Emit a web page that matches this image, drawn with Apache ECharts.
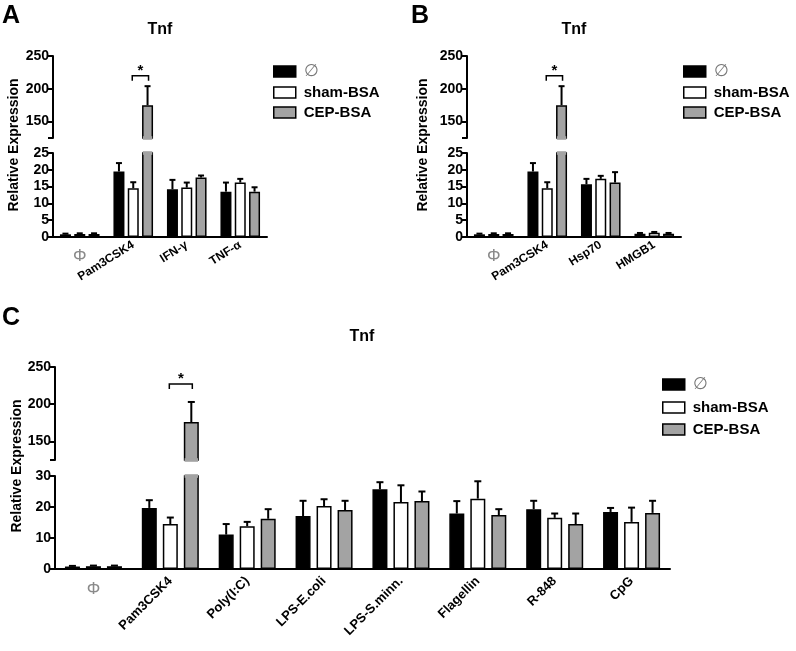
<!DOCTYPE html>
<html>
<head>
<meta charset="utf-8">
<script src="https://cdn.jsdelivr.net/npm/echarts@6/dist/echarts.min.js"></script>
<style>
  html, body { margin: 0; padding: 0; background: #fff; }
  #chart { width: 796px; height: 651px; }
</style>
</head>
<body>
<div id="chart"></div>
<script>
// legend / group names
const groupNames = ['∅', 'sham-BSA', 'CEP-BSA'];

// panel A
const catsA = ['Φ', 'Pam3CSK4', 'IFN-γ', 'TNF-α'];
const noneA = [0.8, 19.5, 14.2, 13.5];
const noneErrA = [0.2, 2.5, 2.8, 2.7];
const shamA = [0.9, 14.5, 14.7, 16.2];
const shamErrA = [0.2, 1.8, 1.5, 1.1];
const cepA = [0.9, 175, 17.7, 13.5];
const cepErrA = [0.2, 29, 0.6, 1.3];

// panel B
const catsB = ['Φ', 'Pam3CSK4', 'Hsp70', 'HMGB1'];
const noneB = [0.8, 19.5, 15.7, 1.0];
const noneErrB = [0.2, 2.5, 1.6, 0.2];
const shamB = [0.9, 14.5, 17.3, 1.3];
const shamErrB = [0.2, 1.8, 0.9, 0.2];
const cepB = [0.9, 175, 16.2, 1.0];
const cepErrB = [0.2, 29, 3.1, 0.2];

// panel C
const catsC = ['Φ', 'Pam3CSK4', 'Poly(I:C)', 'LPS-E.coli', 'LPS-S.minn.', 'Flagellin', 'R-848', 'CpG'];
const noneC = [0.8, 19.7, 11.1, 17.1, 25.7, 17.9, 19.3, 18.4];
const noneErrC = [0.2, 2.5, 3.4, 4.9, 2.3, 4.0, 2.7, 1.3];
const shamC = [0.9, 14.5, 13.8, 20.3, 21.6, 22.7, 16.5, 15.2];
const shamErrC = [0.2, 2.1, 1.4, 2.2, 5.4, 5.6, 1.4, 4.6];
const cepC = [0.9, 176, 16.2, 19.0, 21.9, 17.4, 14.5, 18.1];
const cepErrC = [0.2, 27, 3.1, 3.0, 3.1, 1.9, 3.4, 3.9];

// upper (broken) axis ticks
const upperTicks = [150, 200, 250];

const FONT = '"Liberation Sans", Arial, sans-serif';
const barColors = ['#000000', '#ffffff', '#a3a3a3'];

const grids = [], xAxes = [], yAxes = [], series = [];

function addPanel(p) {
  const gu = grids.length, gl = gu + 1;
  grids.push({ left: p.left, width: p.width, top: p.upTop, height: p.upHeight });
  grids.push({ left: p.left, width: p.width, top: p.lowTop, height: p.lowHeight });
  const pitch = p.barWidth * (1 + p.barGap / 100);

  // x axes: upper (hidden), lower (main), lower extra for the upright Φ label
  const xu = xAxes.length, xl = xu + 1;
  xAxes.push({ type: 'category', gridIndex: gu, data: p.cats, show: false });
  xAxes.push({
    type: 'category', gridIndex: gl, data: p.cats, position: 'bottom',
    axisLine: { lineStyle: { color: '#000', width: 2 } },
    axisTick: { alignWithLabel: true, length: 5, lineStyle: { color: '#000', width: 2 } },
    axisLabel: {
      interval: 0, rotate: p.rotate, margin: p.labelMargin, color: '#000',
      fontFamily: FONT, fontSize: p.labelSize, fontWeight: 'bold',
      formatter: v => v === 'Φ' ? '' : v
    }
  });
  xAxes.push({
    type: 'category', gridIndex: gl, data: p.cats, position: 'bottom',
    axisLine: { show: false }, axisTick: { show: false },
    axisLabel: {
      interval: 0, margin: p.phiMargin, color: '#8a8a8a',
      fontFamily: FONT, fontSize: 17, fontWeight: 'normal',
      formatter: v => v === 'Φ' ? v : ''
    }
  });

  const yCommon = {
    axisLine: { show: true, lineStyle: { color: '#000', width: 2 } },
    splitLine: { show: false },
  };
  const yu = yAxes.length, yl = yu + 1;
  yAxes.push(Object.assign({
    type: 'value', gridIndex: gu, min: p.upMin, max: 250,
    axisTick: { show: true, length: 5, customValues: [p.upMin].concat(upperTicks), lineStyle: { color: '#000', width: 2 } },
    axisLabel: { customValues: upperTicks, margin: 4, color: '#000', fontFamily: FONT, fontSize: 14, fontWeight: 'bold' }
  }, yCommon));
  yAxes.push(Object.assign({
    type: 'value', gridIndex: gl, min: 0, max: p.lowMax, interval: p.lowInt,
    axisTick: { show: true, length: 5, lineStyle: { color: '#000', width: 2 } },
    axisLabel: { margin: 4, color: '#000', fontFamily: FONT, fontSize: 14, fontWeight: 'bold' }
  }, yCommon));

  p.vals.forEach((vals, g) => {
    const style = { color: barColors[g], borderColor: '#000', borderWidth: 1.5 };
    series.push({
      type: 'bar', name: groupNames[g], xAxisIndex: xl, yAxisIndex: yl,
      data: vals, barWidth: p.barWidth, barGap: p.barGap + '%', itemStyle: style, silent: true
    });
    series.push({
      type: 'bar', name: groupNames[g], xAxisIndex: xu, yAxisIndex: yu,
      data: vals.map(v => v >= p.upMin ? v : '-'), barWidth: p.barWidth, barGap: p.barGap + '%',
      itemStyle: style, silent: true
    });
  });

  const errLow = [], errUp = [], breakLow = [], breakUp = [];
  p.vals.forEach((vals, g) => {
    vals.forEach((v, c) => {
      const item = [c, g, v, p.errs[g][c]];
      if (v <= p.lowMax) errLow.push(item); else breakLow.push([c, g, p.lowMax]);
      if (v >= p.upMin) { errUp.push(item); breakUp.push([c, g, p.upMin]); }
    });
  });
  const errRender = (params, api) => {
    const c = api.value(0), g = api.value(1), v = api.value(2), e = api.value(3);
    const base = api.coord([c, v]);
    const top = api.coord([c, v + e]);
    const x = base[0] + (g - 1) * pitch;
    const st = { stroke: '#000', lineWidth: 2 };
    return {
      type: 'group', children: [
        { type: 'line', shape: { x1: x, y1: base[1], x2: x, y2: top[1] }, style: st },
        { type: 'line', shape: { x1: x - p.cap, y1: top[1], x2: x + p.cap, y2: top[1] }, style: st }
      ]
    };
  };
  // hides the border where a bar is cut by the axis break
  const breakRender = (params, api) => {
    const c = api.value(0), g = api.value(1);
    const pt = api.coord([c, api.value(2)]);
    const x = pt[0] + (g - 1) * pitch;
    return {
      type: 'rect',
      shape: { x: x - p.barWidth / 2 + 0.8, y: pt[1] - 1.8, width: p.barWidth - 1.6, height: 3.6 },
      style: { fill: barColors[g] }
    };
  };
  series.push({ type: 'custom', xAxisIndex: xl, yAxisIndex: yl, data: errLow, encode: { x: 0, y: 2 }, renderItem: errRender, z: 5, silent: true });
  series.push({ type: 'custom', xAxisIndex: xu, yAxisIndex: yu, data: errUp, encode: { x: 0, y: 2 }, renderItem: errRender, z: 5, silent: true });
  series.push({ type: 'custom', xAxisIndex: xl, yAxisIndex: yl, data: breakLow, encode: { x: 0, y: 2 }, renderItem: breakRender, z: 4, silent: true, clip: false });
  series.push({ type: 'custom', xAxisIndex: xu, yAxisIndex: yu, data: breakUp, encode: { x: 0, y: 2 }, renderItem: breakRender, z: 4, silent: true, clip: false });

  // significance bracket between sham and CEP
  series.push({
    type: 'custom', xAxisIndex: xu, yAxisIndex: yu, data: [p.sig], encode: { x: 0, y: 1 }, z: 5, silent: true,
    renderItem: (params, api) => {
      const pt = api.coord([api.value(0), api.value(1)]);
      const x0 = pt[0] - 1, x1 = pt[0] + pitch + 1, y = pt[1];
      return {
        type: 'group', children: [
          { type: 'polyline', shape: { points: [[x0, y + 5], [x0, y], [x1, y], [x1, y + 5]] }, style: { stroke: '#000', lineWidth: 1.5, fill: null } },
          { type: 'text', x: (x0 + x1) / 2, y: y - 5, style: { text: '*', fontFamily: FONT, fontSize: 15, fontWeight: 'bold', fill: '#000', align: 'center', verticalAlign: 'middle' } }
        ]
      };
    }
  });
}

addPanel({
  cats: catsA, vals: [noneA, shamA, cepA], errs: [noneErrA, shamErrA, cepErrA],
  left: 53, width: 214, upTop: 56, upHeight: 82, lowTop: 153, lowHeight: 84,
  upMin: 125, lowMax: 25, lowInt: 5, barWidth: 11, barGap: 30, cap: 3, sig: [1, 220],
  rotate: 32, labelSize: 12, labelMargin: 7, phiMargin: 11
});
addPanel({
  cats: catsB, vals: [noneB, shamB, cepB], errs: [noneErrB, shamErrB, cepErrB],
  left: 467, width: 214, upTop: 56, upHeight: 82, lowTop: 153, lowHeight: 84,
  upMin: 125, lowMax: 25, lowInt: 5, barWidth: 11, barGap: 30, cap: 3, sig: [1, 220],
  rotate: 32, labelSize: 12, labelMargin: 7, phiMargin: 11
});
addPanel({
  cats: catsC, vals: [noneC, shamC, cepC], errs: [noneErrC, shamErrC, cepErrC],
  left: 55, width: 615, upTop: 367, upHeight: 93, lowTop: 476, lowHeight: 93,
  upMin: 125, lowMax: 30, lowInt: 10, barWidth: 15, barGap: 40, cap: 3.5, sig: [1, 227],
  rotate: 45, labelSize: 13, labelMargin: 10, phiMargin: 12
});

function legendAt(left, top, gap) {
  return {
    orient: 'vertical', left: left, top: top, icon: 'rect',
    itemWidth: 22, itemHeight: 11, itemGap: gap, selectedMode: false,
    data: groupNames,
    itemStyle: { borderColor: '#000', borderWidth: 1.5 },
    formatter: n => n === '∅' ? '{e|∅}' : n,
    textStyle: {
      fontFamily: FONT, fontSize: 15, fontWeight: 'bold', color: '#000', padding: [0, 0, 0, 3],
      rich: { e: { fontFamily: FONT, fontSize: 17, color: '#777', fontWeight: 'normal' } }
    }
  };
}

const text = (t, x, y, size, extra) => ({
  type: 'text', x: x, y: y, silent: true,
  style: Object.assign({ text: t, fontFamily: FONT, fontSize: size, fontWeight: 'bold', fill: '#000', align: 'center', verticalAlign: 'middle' }, extra || {})
});

const option = {
  animation: false,
  backgroundColor: '#fff',
  grid: grids,
  xAxis: xAxes,
  yAxis: yAxes,
  legend: [legendAt(268, 58, 5), legendAt(678, 58, 5), legendAt(657, 371, 7)],
  graphic: [
    text('A', 11, 16, 25),
    text('B', 420, 16, 25),
    text('C', 11, 318, 25),
    text('Tnf', 160, 30, 16),
    text('Tnf', 574, 30, 16),
    text('Tnf', 362, 337, 16),
    Object.assign(text('Relative Expression', 14, 145, 14), { rotation: Math.PI / 2 }),
    Object.assign(text('Relative Expression', 423, 145, 14), { rotation: Math.PI / 2 }),
    Object.assign(text('Relative Expression', 17, 466, 14), { rotation: Math.PI / 2 })
  ],
  series: series
};

const myChart = echarts.init(document.getElementById('chart'));
myChart.setOption(option);
window.addEventListener('resize', () => myChart.resize());
</script>
</body>
</html>
